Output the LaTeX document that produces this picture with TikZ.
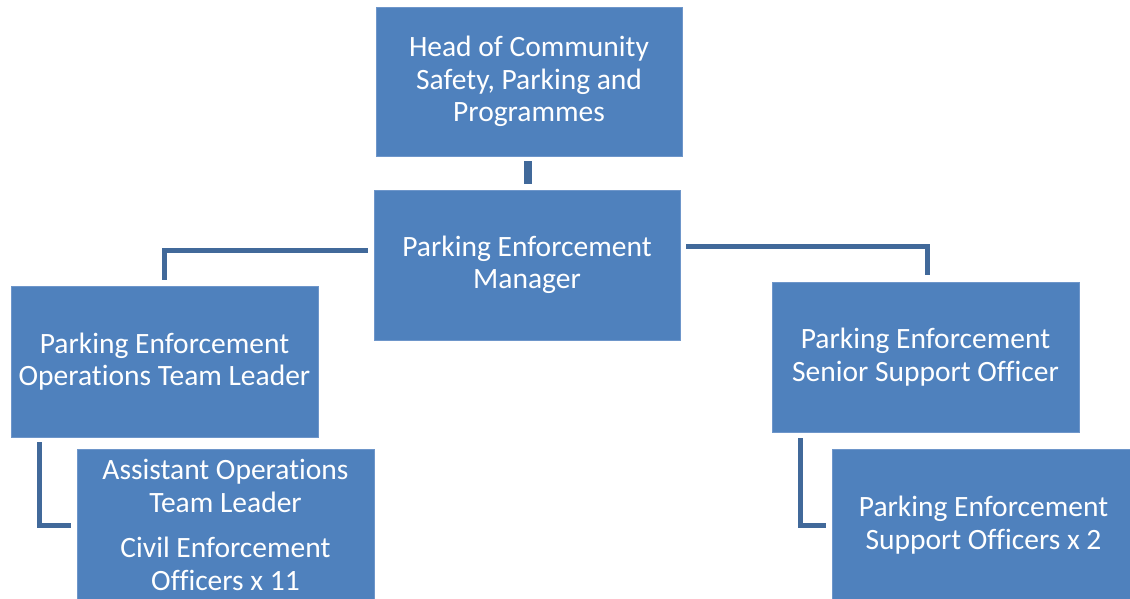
\documentclass[tikz,border=0pt]{standalone}
\usepackage{fontspec}
\setmainfont[Ligatures={NoCommon}]{Carlito}
\definecolor{boxfill}{HTML}{4F81BD}
\definecolor{boxedge}{HTML}{6E96CA}
\definecolor{linkc}{HTML}{41699A}
\begin{document}
\begin{tikzpicture}[x=1pt,y=-1pt,
  orgbox/.style={rectangle, fill=boxfill, draw=boxedge, line width=0.7pt, text=white,
    align=center, inner sep=0pt, font=\fontsize{29.5}{32.5}\selectfont},
  link/.style={draw=linkc, line width=5pt},
  toplink/.style={draw=linkc, line width=8pt}]
\useasboundingbox (0,0) rectangle (1130,598);
\clip (0,0) rectangle (1130,598);
\fill[white] (0,0) rectangle (1130,598);

\node[orgbox, minimum width=306pt, minimum height=149pt] (head) at (529,81.5)
  {Head of Community\\Safety, Parking and\\Programmes};
\node[orgbox, minimum width=306pt, minimum height=150pt] (mgr) at (527,265)
  {Parking Enforcement\\Manager};
\node[orgbox, minimum width=307pt, minimum height=151pt] (peotl) at (164.5,361.5)
  {Parking Enforcement\\Operations Team Leader};
\node[orgbox, minimum width=307pt, minimum height=150pt] (pesso) at (925.5,357)
  {Parking Enforcement\\Senior Support Officer};
\node[orgbox, minimum width=297pt, minimum height=152pt] (asst) at (225.5,525)
  {Assistant Operations\\Team Leader\\[13pt]Civil Enforcement\\Officers x 11};
\node[orgbox, minimum width=303pt, minimum height=152pt] (peso) at (983.5,525)
  {Parking Enforcement\\Support Officers x 2};

\coordinate (hm) at (head.south |- mgr.north);
\draw[toplink] ([xshift=-1pt,yshift=-5pt]head.south) -- ([xshift=-1pt,yshift=6pt]hm);
\draw[link] ([xshift=-6pt,yshift=15pt]mgr.west) -| ([yshift=6pt]peotl.north);
\draw[link] ([xshift=6pt,yshift=18.5pt]mgr.east) -| ([xshift=1.5pt,yshift=7pt]pesso.north);
\draw[link] ([xshift=29pt,yshift=-5pt]peotl.south west) |- ([xshift=-6pt]asst.west);
\draw[link] ([xshift=29pt,yshift=-6pt]pesso.south west) |- ([xshift=-6pt]peso.west);
\end{tikzpicture}
\end{document}
